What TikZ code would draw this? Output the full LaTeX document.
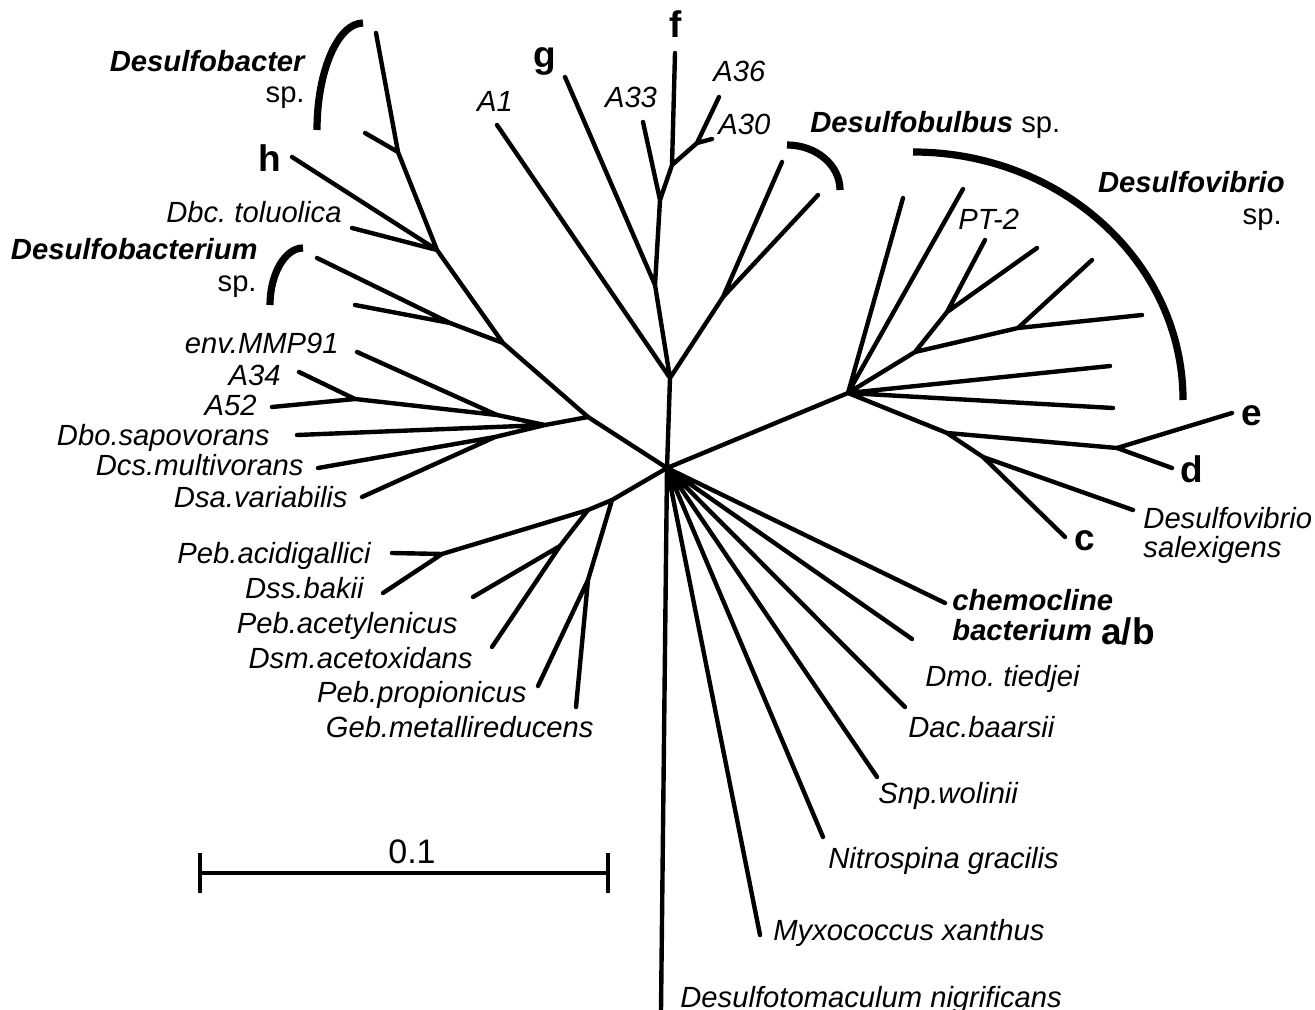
\documentclass[tikz,border=0pt]{standalone}
\usepackage{fontspec}
\setmainfont{Liberation Sans}
\usetikzlibrary{arrows.meta}
\tikzset{
  branch/.style={line width=2.2pt, line cap=round},
  brace/.style={line width=3.6pt},
  taxon/.style={font=\fontsize{14.6}{17}\selectfont\itshape\frenchspacing, inner sep=0pt},
  genus/.style={font=\fontsize{14.6}{17}\selectfont\bfseries\itshape, inner sep=0pt},
  spec/.style={font=\fontsize{14.6}{17}\selectfont, inner sep=0pt},
  clone/.style={font=\fontsize{18.5}{20}\selectfont\bfseries, inner sep=0pt}
}
\begin{document}
\begin{tikzpicture}[x=0.5pt,y=-0.5pt]
\useasboundingbox (0,0) rectangle (1315,1010);

% inner nodes
\coordinate (r) at (667,468);
\coordinate (t1) at (672,165);
\coordinate (t2) at (697,143);
\coordinate (t3) at (660,200);
\coordinate (t4) at (655,285);
\coordinate (t5) at (670,378);
\coordinate (t6) at (723,297);
\coordinate (v0) at (848,393);
\coordinate (v1) at (915,352);
\coordinate (v2) at (947,312);
\coordinate (v3) at (1018,328);
\coordinate (v4) at (947,433);
\coordinate (v5) at (1117,448);
\coordinate (v6) at (983,457);
\coordinate (l1) at (588,417);
\coordinate (l2) at (545,425);
\coordinate (l3) at (497,415);
\coordinate (l4) at (495,437);
\coordinate (l5) at (355,399);
\coordinate (k1) at (398,152);
\coordinate (k2) at (437,250);
\coordinate (k3) at (503,343);
\coordinate (k4) at (450,323);
\coordinate (n1) at (612,500);
\coordinate (n2) at (588,510);
\coordinate (n3) at (588,580);
\coordinate (n4) at (442,554);
\coordinate (n5) at (560,546);

% tips
\coordinate (xf) at (675,53);
\coordinate (xa36) at (719,97);
\coordinate (xa30) at (712,139);
\coordinate (xa33) at (643,122);
\coordinate (xg) at (565,77);
\coordinate (xa1) at (497,125);
\coordinate (xb1) at (782,162);
\coordinate (xb2) at (818,195);
\coordinate (y1) at (903,198);
\coordinate (y2) at (963,189);
\coordinate (y3) at (985,240);
\coordinate (y4) at (1037,248);
\coordinate (y5) at (1092,260);
\coordinate (y6) at (1142,315);
\coordinate (y7) at (1110,366);
\coordinate (y8) at (1113,408);
\coordinate (ye) at (1232,413);
\coordinate (yd) at (1172,468);
\coordinate (ysal) at (1133,510);
\coordinate (yc) at (1065,537);
\coordinate (zdb) at (376,33);
\coordinate (zdb2) at (365,133);
\coordinate (zh) at (292,157);
\coordinate (zdbc) at (352,228);
\coordinate (zdm1) at (317,258);
\coordinate (zdm2) at (355,305);
\coordinate (zenv) at (357,352);
\coordinate (za34) at (299,372);
\coordinate (za52) at (272,407);
\coordinate (zdbo) at (297,435);
\coordinate (zdcs) at (318,468);
\coordinate (zdsa) at (362,497);
\coordinate (wgeb) at (576,707);
\coordinate (wppr) at (538,686);
\coordinate (wpac) at (392,553);
\coordinate (wdss) at (383,593);
\coordinate (wdsm) at (492,647);
\coordinate (wpace) at (473,597);
\coordinate (fchem) at (945,603);
\coordinate (fdmo) at (912,639);
\coordinate (fdac) at (905,707);
\coordinate (fsnp) at (877,777);
\coordinate (fnit) at (823,837);
\coordinate (fmyx) at (760,935);
\coordinate (fdfm) at (661,1010);

% branches
\draw[branch] (r) -- (t5) -- (t4) -- (t3) -- (t1) -- (xf) (t1) -- (t2) -- (xa36) (t2) -- (xa30)
  (t3) -- (xa33) (t4) -- (xg) (t5) -- (xa1) (t5) -- (t6) -- (xb1) (t6) -- (xb2);
\draw[branch] (r) -- (v0) -- (y1) (v0) -- (y2) (v0) -- (v1) -- (v2) -- (y3) (v2) -- (y4)
  (v1) -- (v3) -- (y5) (v3) -- (y6) (v0) -- (y7) (v0) -- (y8)
  (v0) -- (v4) -- (v5) -- (ye) (v5) -- (yd) (v4) -- (v6) -- (ysal) (v6) -- (yc);
\draw[branch] (r) -- (l1) -- (k3) -- (k2) -- (k1) -- (zdb) (k1) -- (zdb2) (k2) -- (zh) (k2) -- (zdbc)
  (k3) -- (k4) -- (zdm1) (k4) -- (zdm2);
\draw[branch] (l1) -- (l2) -- (l3) -- (zenv) (l3) -- (l5) -- (za34) (l5) -- (za52)
  (l2) -- (zdbo) (l2) -- (l4) -- (zdcs) (l4) -- (zdsa);
\draw[branch] (r) -- (n1) -- (n2) -- (n4) -- (wpac) (n4) -- (wdss) (n2) -- (n5) -- (wdsm) (n5) -- (wpace)
  (n1) -- (n3) -- (wgeb) (n3) -- (wppr);
\draw[branch] (r) -- (fchem) (r) -- (fdmo) (r) -- (fdac) (r) -- (fsnp) (r) -- (fnit) (r) -- (fmyx) (r) -- (fdfm);

% group brackets
\draw[brace] (363,23) .. controls (338,23) and (317,71) .. (317,130);
\draw[brace] (303,248) .. controls (285,248) and (270,274) .. (270,305);
\draw[brace] (787,145) .. controls (816,145) and (840,165) .. (840,190);
\draw[brace] (913,152) .. controls (1062,152) and (1183,263) .. (1183,400);

% labels
\node[genus, anchor=base east] (gdb) at (305,72) {Desulfobacter};
\node[spec, anchor=base east] (gdbsp) at (305,103) {sp.};
\node[clone, anchor=base] (ch) at (270,172) {h};
\node[taxon, anchor=base east] (ldbc) at (342,223) {Dbc. toluolica};
\node[genus, anchor=base east] (gdm) at (258,260) {Desulfobacterium};
\node[spec, anchor=base east] (gdmsp) at (257,292) {sp.};
\node[taxon, anchor=base east] (lenv) at (339,353) {env.MMP91};
\node[taxon, anchor=base east] (la34) at (281,385) {A34};
\node[taxon, anchor=base east] (la52) at (257,415) {A52};
\node[taxon, anchor=base east] (ldbo) at (270,445) {Dbo.sapovorans};
\node[taxon, anchor=base east] (ldcs) at (304,475) {Dcs.multivorans};
\node[taxon, anchor=base east] (ldsa) at (348,507) {Dsa.variabilis};
\node[taxon, anchor=base east] (lpac) at (371,563) {Peb.acidigallici};
\node[taxon, anchor=base east] (ldss) at (364,598) {Dss.bakii};
\node[taxon, anchor=base east] (lpace) at (458,633) {Peb.acetylenicus};
\node[taxon, anchor=base east] (ldsm) at (473,668) {Dsm.acetoxidans};
\node[taxon, anchor=base east] (lppr) at (527,702) {Peb.propionicus};
\node[taxon, anchor=base east] (lgeb) at (594,737) {Geb.metallireducens};
\node[taxon, anchor=base] (la1) at (495,112) {A1};
\node[clone, anchor=base] (cg) at (545,68) {g};
\node[clone, anchor=base] (cf) at (676,38) {f};
\node[taxon, anchor=base] (la33) at (631,108) {A33};
\node[taxon, anchor=base west] (la36) at (713,82) {A36};
\node[taxon, anchor=base west] (la30) at (718,135) {A30};
\node[spec, anchor=base west] (gdbb) at (810,133) {\bfseries\itshape Desulfobulbus\mdseries\upshape\ sp.};
\node[genus, anchor=base east] (gdv) at (1285,193) {Desulfovibrio};
\node[spec, anchor=base east] (gdvsp) at (1282,225) {sp.};
\node[taxon, anchor=base west] (lpt) at (958,230) {PT-2};
\node[clone, anchor=base] (ce) at (1252,425) {e};
\node[clone, anchor=base] (cd) at (1192,482) {d};
\node[clone, anchor=base] (cc) at (1085,550) {c};
\node[taxon, anchor=base west] (lsal1) at (1143,528) {Desulfovibrio};
\node[taxon, anchor=base west] (lsal2) at (1143,557) {salexigens};
\node[genus, anchor=base west] (gch1) at (952,610) {chemocline};
\node[genus, anchor=base west] (gch2) at (952,640) {bacterium};
\node[clone, anchor=base west] (cab) at (1101,644) {a/b};
\node[taxon, anchor=base west] (ldmo) at (925,686) {Dmo. tiedjei};
\node[taxon, anchor=base west] (ldac) at (908,737) {Dac.baarsii};
\node[taxon, anchor=base west] (lsnp) at (878,803) {Snp.wolinii};
\node[taxon, anchor=base west] (lnit) at (828,868) {Nitrospina gracilis};
\node[taxon, anchor=base west] (lmyx) at (773,940) {Myxococcus xanthus};
\node[taxon, anchor=base west] (ldfm) at (680,1007) {Desulfotomaculum nigrificans};

% scale bar
\coordinate (sb1) at (198,873);
\coordinate (sb2) at (610,873);
\draw[line width=2.2pt, {Bar[width=20pt]}-{Bar[width=20pt]}] (sb1) -- (sb2);
\node[spec, font=\fontsize{17}{19}\selectfont, anchor=base] (sbl) at (412,863) {0.1};
\end{tikzpicture}
\end{document}
